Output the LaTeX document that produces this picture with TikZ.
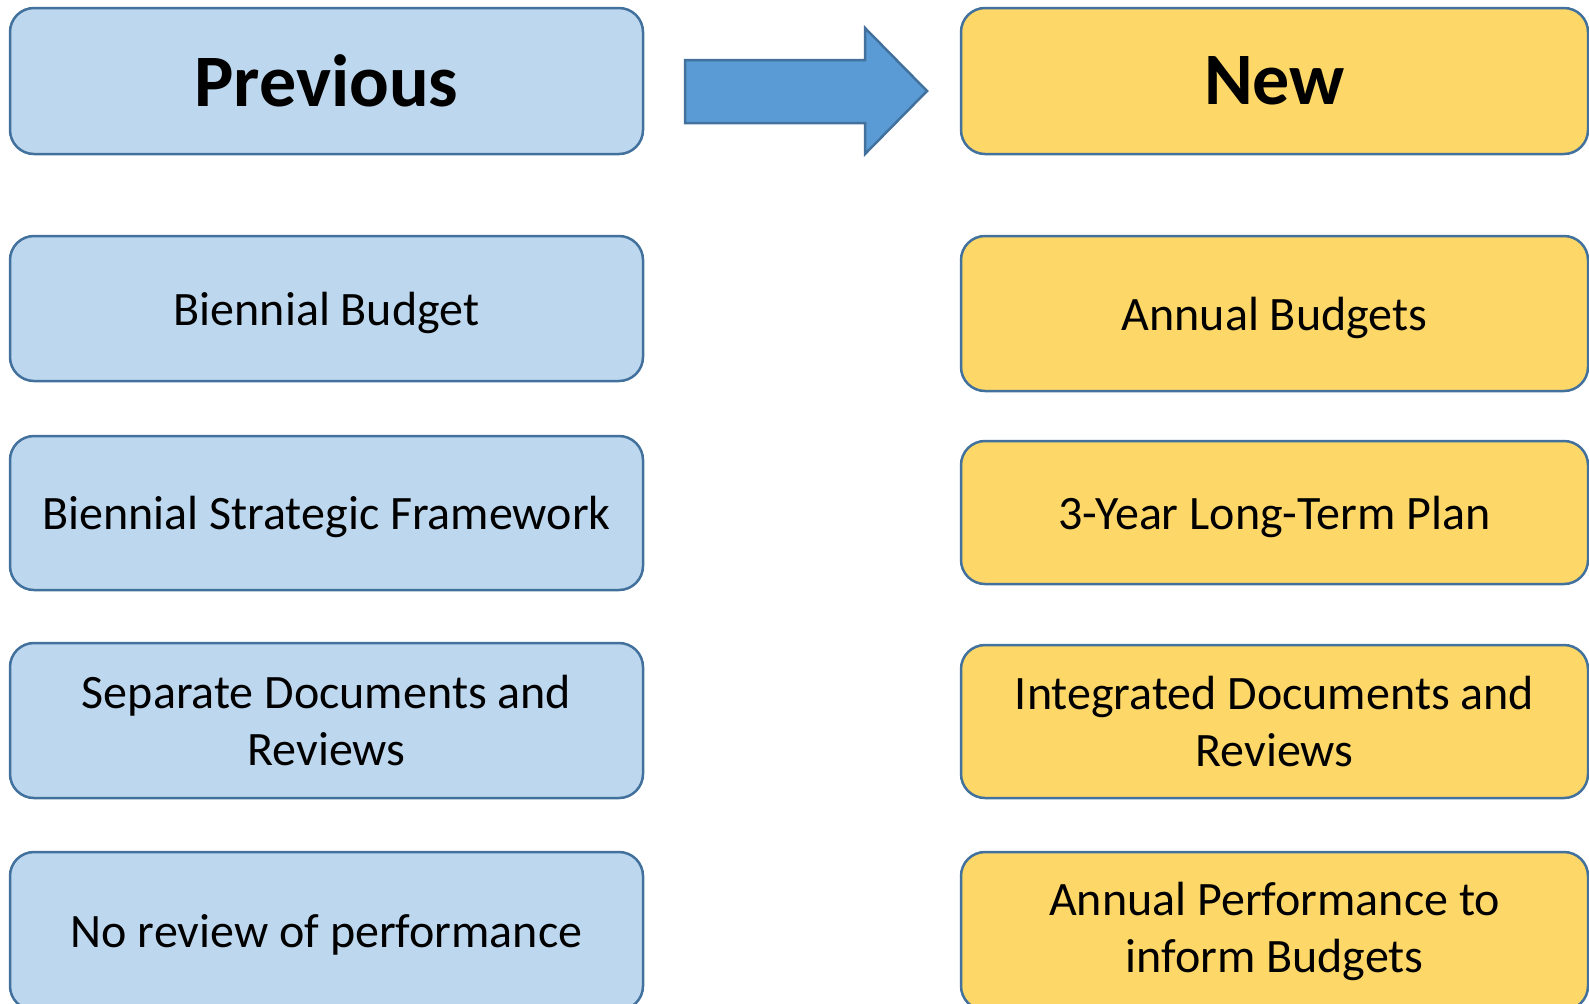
\documentclass[tikz,border=0pt]{standalone}
\usepackage{fontspec}
\setmainfont{Carlito}
\usepackage{xcolor}
\definecolor{prevfill}{HTML}{BDD7EE}
\definecolor{newfill}{HTML}{FDD767}
\definecolor{edgeblue}{HTML}{41719C}
\definecolor{arrowblue}{HTML}{5B9BD5}

\begin{document}
\begin{tikzpicture}[x=0.5pt,y=-0.5pt,
  box/.style={draw=edgeblue,line width=1.25pt,rounded corners=12pt,
    align=center,inner sep=0pt,font=\fontsize{24}{28.5}\selectfont},
  prevbox/.style={box,fill=prevfill,minimum width=316.5pt},
  newbox/.style={box,fill=newfill,minimum width=313.5pt},
  oneline/.style={text depth=0pt},
  headtext/.style={font=\fontsize{37}{41}\selectfont\bfseries}]
\useasboundingbox (0,0) rectangle (1589,1003);
\begin{scope}
\clip (0,0) rectangle (1589,1003);
% previous column
\node[prevbox,minimum height=73pt,headtext] (prevhead) at (326.5,81) {Previous};
\node[prevbox,oneline,minimum height=72.5pt] (prev1) at (326.5,308.5) {Biennial Budget};
\node[prevbox,oneline,minimum height=77pt] (prev2) at (326.5,513) {Biennial Strategic Framework};
\node[prevbox,minimum height=77.5pt] (prev3) at (326.5,720.5) {Separate Documents and\\Reviews};
\node[prevbox,oneline,minimum height=79pt] (prev4) at (326.5,931) {No review of performance};
% new column
\node[newbox,minimum height=73pt,headtext] (newhead) at (1274.5,81) {New};
\node[newbox,oneline,minimum height=77.5pt] (new1) at (1274.5,313.5) {Annual Budgets};
\node[newbox,oneline,minimum height=71.5pt] (new2) at (1274.5,512.5) {3-Year Long-Term Plan};
\node[newbox,minimum height=76.5pt] (new3) at (1274.5,721.5) {Integrated Documents and\\Reviews};
\node[newbox,minimum height=79pt] (new4) at (1274.5,931) {Annual Performance to\\inform Budgets};
\end{scope}
% big arrow
\filldraw[draw=edgeblue,fill=arrowblue,line width=1.25pt,line join=miter]
  (685,60) -- (865,60) -- (865,28) -- (927,91) -- (865,154) -- (865,123) -- (685,123) -- cycle;
\end{tikzpicture}
\end{document}
